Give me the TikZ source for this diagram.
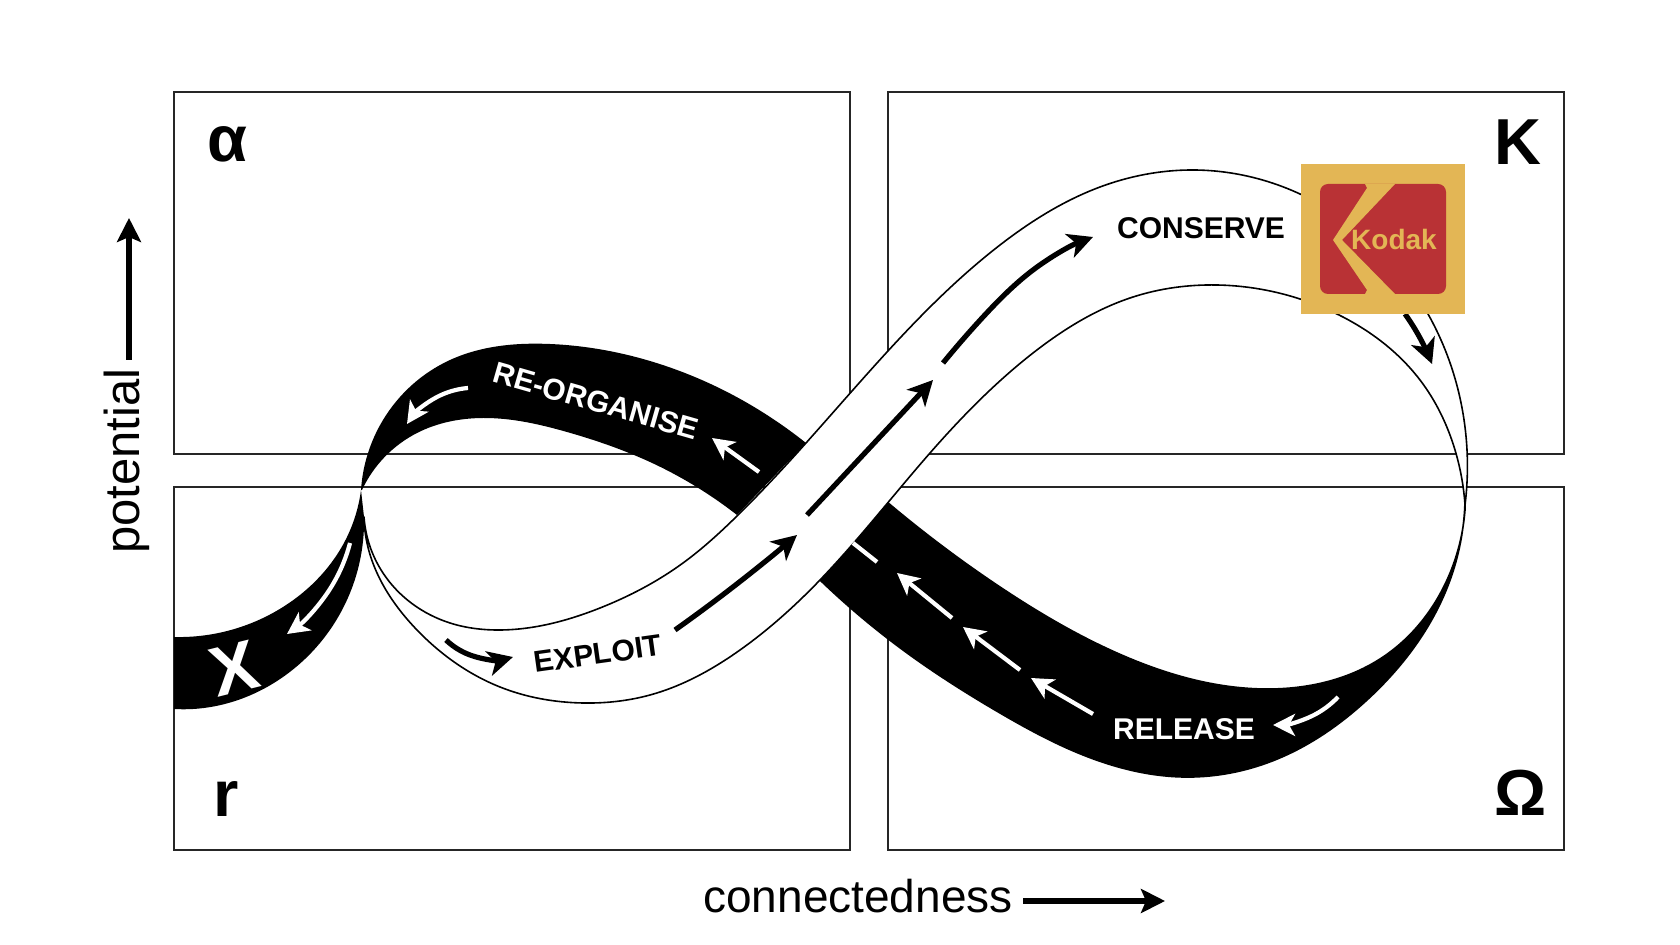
\documentclass[tikz,border=0pt]{standalone}
\usepackage{fontspec}
\setmainfont{Liberation Sans}
\usepackage{xcolor}
\usetikzlibrary{arrows, arrows.meta}
\usetikzlibrary{positioning}
\usetikzlibrary{hobby}
\definecolor{kodakyellow}{HTML}{E3B655}
\definecolor{kodakred}{HTML}{B93235}
\tikzset{
	quadrant/.style={draw=black!85, line width=0.7pt},
	ribbonedge/.style={draw=black, fill=white, line width=0.8pt, line join=round},
	blackarrow/.style={-{Stealth[length=12.5pt,width=12.5pt,inset=3.5pt]}, line width=2.6pt, black},
	whitearrow/.style={-{Stealth[length=11pt,width=11pt,inset=3pt]}, line width=2.1pt, white},
	axisarrow/.style={-{Stealth[length=12pt,width=12pt,inset=2.5pt]}, line width=2.8pt, black},
	phase/.style={inner sep=0pt, anchor=base, font=\fontsize{15}{18}\selectfont\bfseries},
	corner/.style={inner sep=0pt, anchor=base, font=\fontsize{32.5}{36}\selectfont\bfseries},
	axislabel/.style={inner sep=0pt, anchor=base, font=\fontsize{23}{26}\selectfont}
}

\begin{document}
\begin{tikzpicture}[x=0.5pt, y=-0.5pt, use Hobby shortcut]
	\useasboundingbox (0,0) rectangle (1680,945);
	% draw quadrants
	\draw[quadrant] (174,92) rectangle (850,454);
	\draw[quadrant] (888,92) rectangle (1564,454);
	\draw[quadrant] (174,487) rectangle (850,850);
	\draw[quadrant] (888,487) rectangle (1564,850);
	% black parts of the loop
	\fill[black] (174,637) .. (283,607) .. (347,537) .. (361,490)
		-- (364,517) .. (350,593) .. (283,677) .. (193,709) .. (174,709) -- cycle;
	\fill[black] (361,490) .. (383,420) .. (450,360) .. (550,344) .. (650,361) .. (767,415) .. (806,443)
		-- (737,515) .. (650,462) .. (567,432) .. (483,418) .. (417,433) .. (362,490) -- cycle;
	\filldraw[black, line width=0.8pt] (887,502) .. (1000,587) .. (1117,653) .. (1267,689) .. (1383,657) .. (1450,573) .. (1465,510)
		-- (1465,500) .. (1449,583) .. (1367,700) .. (1267,763) .. (1183,777) .. (1083,755) .. (1000,713) .. (903,650) .. (820,580) -- cycle;
	% white ribbon on top
	\draw[ribbonedge] (364,517) .. (383,573) .. (450,623) .. (500,630) .. (600,608) .. (683,563) .. (737,516) .. (806,443) .. (900,338) .. (1000,245) .. (1100,187) .. (1190,170) .. (1300,194) .. (1428,314) .. (1467,450) .. (1465,505)
		-- (1465,505) .. (1455,450) .. (1420,380) .. (1337,314) .. (1217,285) .. (1133,297) .. (1033,353) .. (930,453) .. (820,580) .. (740,650) .. (650,695) .. (583,703) .. (500,687) .. (417,630) .. (367,543) .. (364,517) -- cycle;
	% arrows on the white part
	\draw[blackarrow] (446,640) .. (470,655) .. (513,657);
	\draw[blackarrow] (675,630) .. (733,587) .. (797,535);
	\draw[blackarrow] (807,515) -- (933,380);
	\draw[blackarrow] (943,363) .. (983,317) .. (1033,270) .. (1093,237);
	\draw[blackarrow] (1405,314) .. (1420,338) .. (1432,364);
	% arrows on the black part
	\draw[whitearrow] (1338,697) .. (1312,716) .. (1273,725);
	\draw[whitearrow] (1093,714) -- (1031,678);
	\draw[whitearrow] (1020,670) -- (963,627);
	\draw[whitearrow] (952,618) -- (897,573);
	\draw[white, line width=2.1pt] (853,543) -- (877,562);
	\draw[whitearrow] (759,472) -- (712,438);
	\draw[whitearrow] (468,388) .. (437,397) .. (407,424);
	\draw[whitearrow] (350,543) .. (328,592) .. (287,634);
	% phase labels
	\node[phase] (conserve) at (1201,239) {CONSERVE};
	\node[phase, white] (release) at (1184,739) {RELEASE};
	\node[phase, rotate=8] (exploit) at (599,664) {EXPLOIT};
	\node[phase, white, rotate=-16] (reorganise) at (593,411) {RE-ORGANISE};
	\node[corner, white, rotate=14, font=\fontsize{35}{38}\selectfont\bfseries] (xphase) at (240,692) {X};
	% quadrant letters
	\node[corner] (alpha) at (227,162) {α};
	\node[corner] (kappa) at (1518,165) {K};
	\node[corner] (rletter) at (226,816) {r};
	\node[corner] (omega) at (1521,815) {Ω};
	% draw logo
	\fill[kodakyellow] (1301,164) rectangle (1465,314);
	\fill[kodakred, rounded corners=4pt] (1320,184) rectangle (1446,294);
	\fill[kodakyellow] (1365,184) -- (1395,184) -- (1342,240) -- (1395,294) -- (1365,294) -- (1367,290) -- (1333,240) -- (1367,188) -- cycle;
	\node[inner sep=0pt, anchor=base, text=kodakyellow, font=\fontsize{14}{16}\selectfont\bfseries] (kodak) at (1394,250) {Kodak};
	% draw axes
	\node[axislabel] (connectedness) at (858,912) {connectedness};
	\coordinate (xstart) at (1023,901);
	\coordinate (xtip) at (1165,901);
	\draw[axisarrow] (xstart) -- (xtip);
	\node[axislabel, rotate=90, font=\fontsize{24.5}{26}\selectfont] (potential) at (139,461) {potential};
	\coordinate (ystart) at (129,360);
	\coordinate (ytip) at (129,218);
	\draw[axisarrow] (ystart) -- (ytip);
\end{tikzpicture}
\end{document}
